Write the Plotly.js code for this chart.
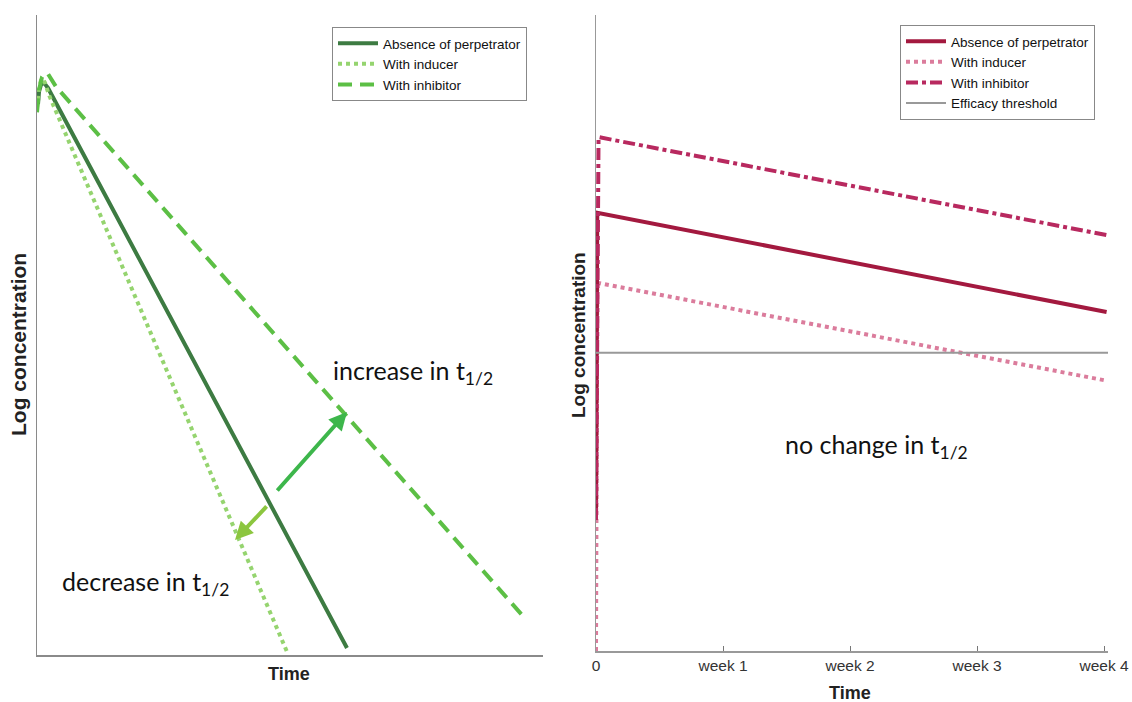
<!DOCTYPE html>
<html>
<head>
<meta charset="utf-8">
<script src="https://cdn.plot.ly/plotly-3.0.1.min.js"></script>
<style>html,body{margin:0;padding:0;background:#fff;}#chart{width:1132px;height:702px;}</style>
</head>
<body>
<div id="chart"></div>
<script>
// ---- Left panel (arbitrary time / log concentration units) ----
const leftAbsenceX   = [0.2, 0.4, 0.79, 1.19, 1.58, 2.17, 61.26];
const leftAbsenceY   = [86.1, 88.0, 89.1, 89.4, 89.2, 88.6, 1.1];
const leftInducerX   = [0.0, 0.4, 0.79, 1.19, 1.58, 2.37, 49.41];
const leftInducerY   = [85.5, 88.6, 89.8, 90.0, 89.4, 87.5, 0.5];
const leftInhibitorX = [0.0, 0.4, 0.99, 1.58, 2.17, 2.96, 3.75, 95.85];
const leftInhibitorY = [84.8, 88.3, 90.3, 90.9, 90.8, 89.8, 88.8, 6.25];

// arrows: [tailX, tailY, headX, headY]
const increaseArrow = [47.23, 25.47, 61.26, 37.97];
const decreaseArrow = [45.65, 23.44, 39.13, 17.97];

// ---- Right panel (time in weeks) ----
const weekTickVals  = [0, 1, 2, 3, 4];
const weekTickText  = ['0', 'week 1', 'week 2', 'week 3', 'week 4'];
const rightAbsenceX   = [0, 0.01, 4.02];
const rightAbsenceY   = [20.6, 68.9, 53.3];
const rightInducerX   = [0, 0.01, 4.02];
const rightInducerY   = [0, 57.9, 42.5];
const rightInhibitorX = [0, 0.02, 4.02];
const rightInhibitorY = [20.6, 80.8, 65.4];
const thresholdX      = [0, 4.06];
const thresholdY      = [46.9, 46.9];

const W = 1132, H = 702;
const px = v => v / W;
const py = v => (H - v) / H;

const traces = [
  {x: leftAbsenceX, y: leftAbsenceY, name: 'Absence of perpetrator', mode: 'lines',
   line: {color: '#3d7b42', width: 4}, xaxis: 'x', yaxis: 'y', legend: 'legend'},
  {x: leftInducerX, y: leftInducerY, name: 'With inducer', mode: 'lines',
   line: {color: '#95d46f', width: 4, dash: 'dot'}, xaxis: 'x', yaxis: 'y', legend: 'legend'},
  {x: leftInhibitorX, y: leftInhibitorY, name: 'With inhibitor', mode: 'lines',
   line: {color: '#5cbf45', width: 4, dash: '14px,8px'}, xaxis: 'x', yaxis: 'y', legend: 'legend'},
  {x: rightInducerX, y: rightInducerY, name: 'With inducer', mode: 'lines',
   line: {color: '#db7c9c', width: 4, dash: 'dot'}, xaxis: 'x2', yaxis: 'y2', legend: 'legend2', legendrank: 2},
  {x: rightAbsenceX, y: rightAbsenceY, name: 'Absence of perpetrator', mode: 'lines',
   line: {color: '#a3193f', width: 4}, xaxis: 'x2', yaxis: 'y2', legend: 'legend2', legendrank: 1},
  {x: rightInhibitorX, y: rightInhibitorY, name: 'With inhibitor', mode: 'lines',
   line: {color: '#b8295f', width: 4, dash: 'dashdot'}, xaxis: 'x2', yaxis: 'y2', legend: 'legend2', legendrank: 3},
  {x: thresholdX, y: thresholdY, name: 'Efficacy threshold', mode: 'lines',
   line: {color: '#999999', width: 2}, xaxis: 'x2', yaxis: 'y2', legend: 'legend2', legendrank: 4}
];

const calib = 'Lato, "Open Sans", sans-serif';
const arial = '"Liberation Sans", Arial, sans-serif';

const layout = {
  width: W, height: H,
  margin: {l: 0, r: 0, t: 0, b: 0},
  paper_bgcolor: '#fff', plot_bgcolor: '#fff',
  font: {family: arial, size: 12, color: '#222'},
  showlegend: true,
  xaxis: {domain: [px(37), px(543)], range: [0, 100], showgrid: false, zeroline: false,
          showticklabels: false, ticks: '', showline: true, linecolor: '#8a8a8a', linewidth: 1.5, anchor: 'y'},
  yaxis: {domain: [py(655), py(15)], range: [0, 100], showgrid: false, zeroline: false,
          showticklabels: false, ticks: '', showline: true, linecolor: '#8a8a8a', linewidth: 1.5, anchor: 'x'},
  xaxis2: {domain: [px(596), px(1108)], range: [0, 4.031], showgrid: false, zeroline: false,
           tickvals: weekTickVals, ticktext: weekTickText, ticks: 'inside', ticklen: 5, tickcolor: '#777',
           tickfont: {family: arial, size: 15.5, color: '#333'},
           showline: true, linecolor: '#999', linewidth: 1.5, anchor: 'y2'},
  yaxis2: {domain: [py(651), py(15)], range: [0, 100], showgrid: false, zeroline: false,
           showticklabels: false, ticks: '', showline: true, linecolor: '#999', linewidth: 1.5, anchor: 'x2'},
  legend: {x: px(332), y: py(27), xanchor: 'left', yanchor: 'top', bgcolor: '#fff',
           bordercolor: '#888', borderwidth: 1, font: {family: arial, size: 13.5, color: '#111'},
           tracegroupgap: 0, itemwidth: 40},
  legend2: {x: px(900), y: py(25), xanchor: 'left', yanchor: 'top', bgcolor: '#fff',
            bordercolor: '#888', borderwidth: 1, font: {family: arial, size: 13.5, color: '#111'},
            tracegroupgap: 0, traceorder: 'normal', itemwidth: 40},
  annotations: [
    {x: increaseArrow[2], y: increaseArrow[3], ax: increaseArrow[0], ay: increaseArrow[1],
     xref: 'x', yref: 'y', axref: 'x', ayref: 'y', showarrow: true, arrowhead: 2, arrowsize: 0.9,
     arrowwidth: 4, arrowcolor: '#3db64b', text: ''},
    {x: decreaseArrow[2], y: decreaseArrow[3], ax: decreaseArrow[0], ay: decreaseArrow[1],
     xref: 'x', yref: 'y', axref: 'x', ayref: 'y', showarrow: true, arrowhead: 2, arrowsize: 0.9,
     arrowwidth: 4, arrowcolor: '#8cc63f', text: ''},
    {x: 74.3, y: 44.2, xref: 'x', yref: 'y', showarrow: false, xanchor: 'center', yanchor: 'middle',
     text: 'increase in t<sub>1/2</sub>', font: {family: calib, size: 25, color: '#111'}},
    {x: 21.5, y: 11.25, xref: 'x', yref: 'y', showarrow: false, xanchor: 'center', yanchor: 'middle',
     text: 'decrease in t<sub>1/2</sub>', font: {family: calib, size: 25, color: '#111'}},
    {x: 2.21, y: 32.2, xref: 'x2', yref: 'y2', showarrow: false, xanchor: 'center', yanchor: 'middle',
     text: 'no change in t<sub>1/2</sub>', font: {family: calib, size: 25, color: '#111'}},
    {x: px(289), y: py(674), xref: 'paper', yref: 'paper', showarrow: false, xanchor: 'center', yanchor: 'middle',
     text: '<b>Time</b>', font: {family: arial, size: 18, color: '#222'}},
    {x: px(850), y: py(693), xref: 'paper', yref: 'paper', showarrow: false, xanchor: 'center', yanchor: 'middle',
     text: '<b>Time</b>', font: {family: arial, size: 18, color: '#222'}},
    {x: px(18), y: py(345), xref: 'paper', yref: 'paper', showarrow: false, textangle: -90,
     xanchor: 'center', yanchor: 'middle',
     text: '<b>Log concentration</b>', font: {family: arial, size: 21, color: '#222'}},
    {x: px(578), y: py(335), xref: 'paper', yref: 'paper', showarrow: false, textangle: -90,
     xanchor: 'center', yanchor: 'middle',
     text: '<b>Log concentration</b>', font: {family: arial, size: 19, color: '#222'}}
  ]
};

Plotly.newPlot('chart', traces, layout, {displayModeBar: false, staticPlot: true});
</script>
</body>
</html>
